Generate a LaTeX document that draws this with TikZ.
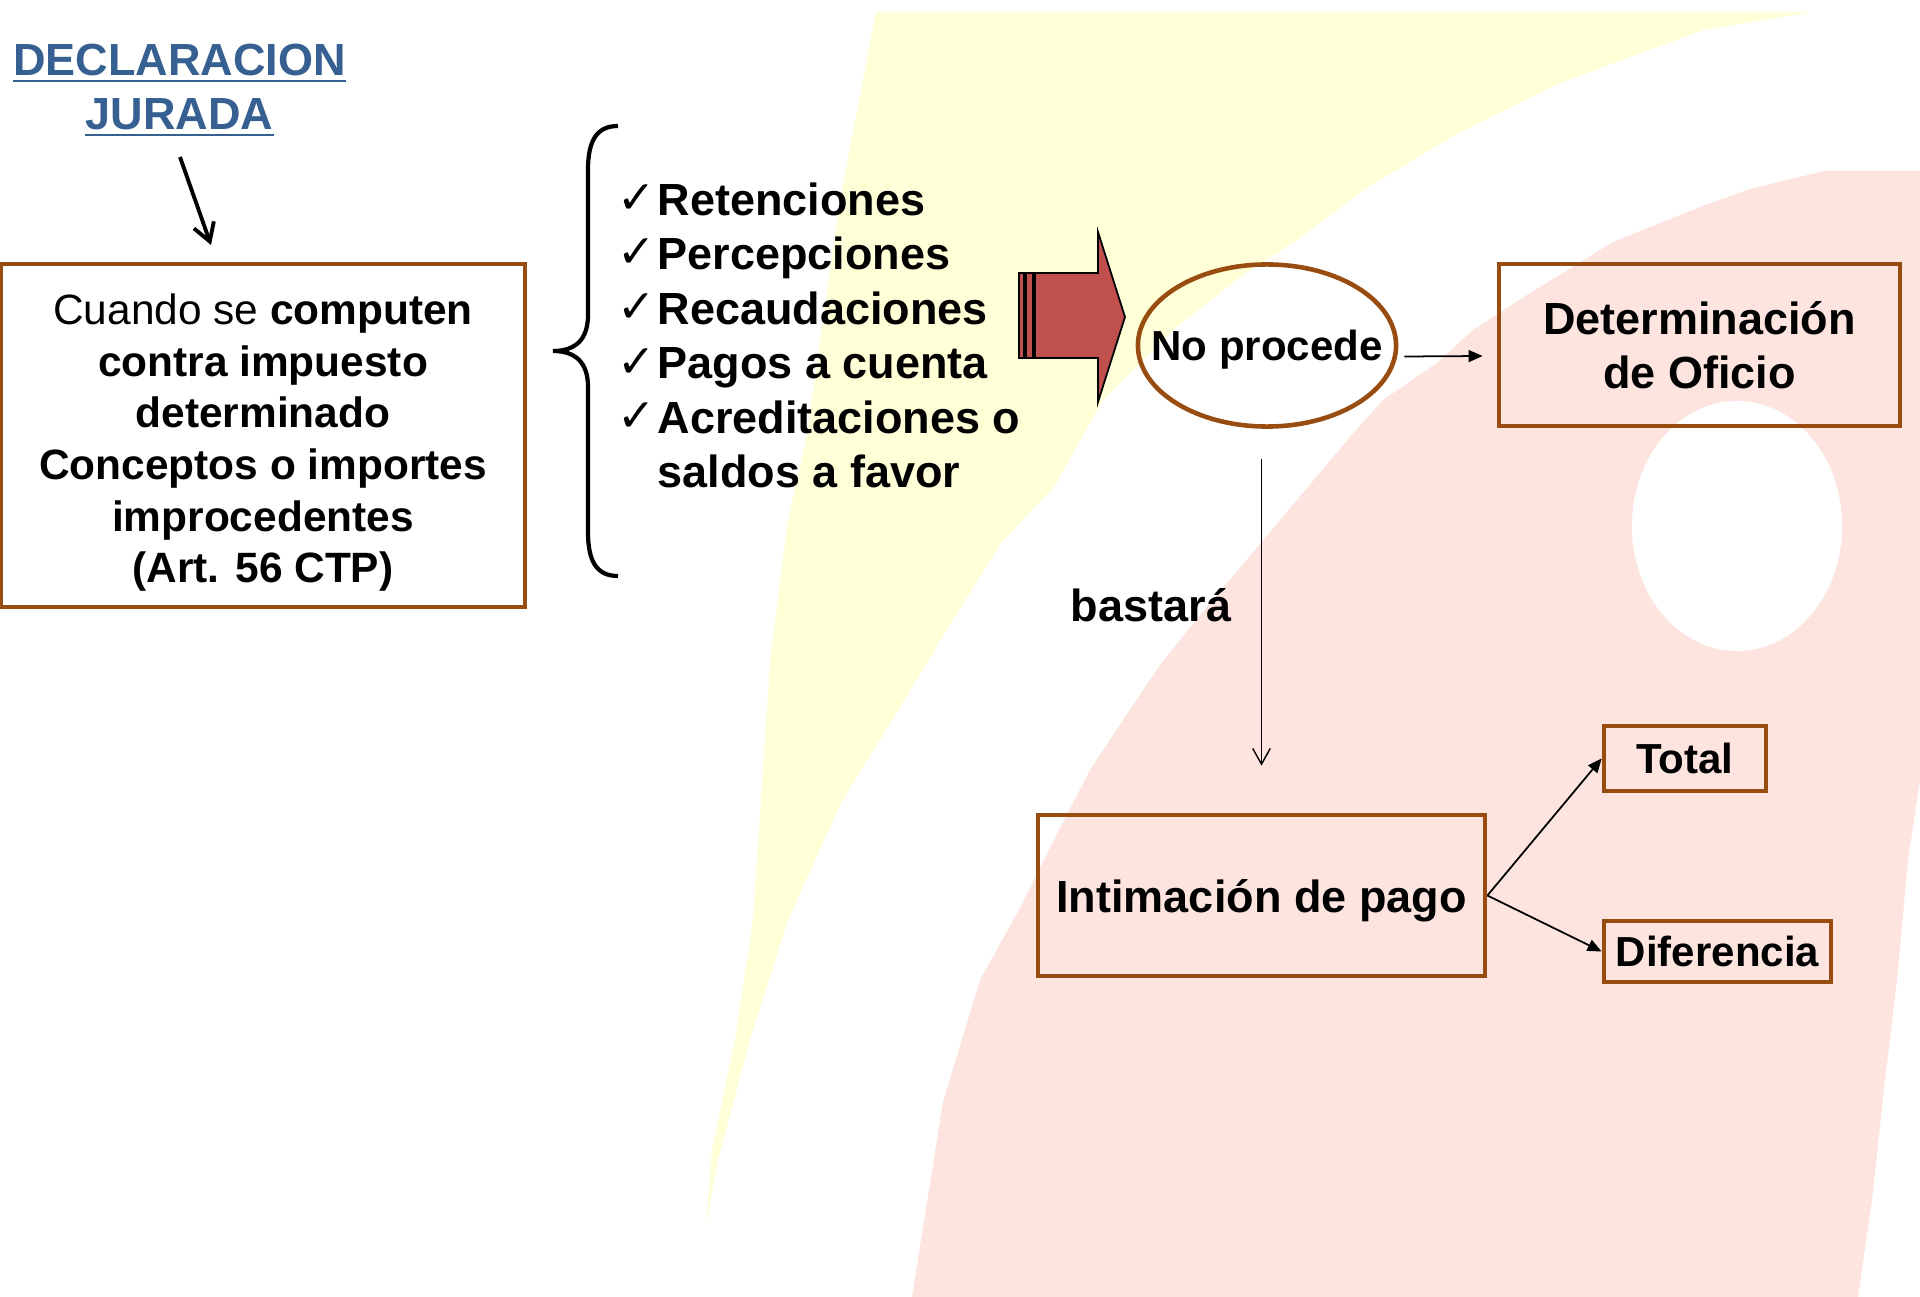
\documentclass[tikz,border=0pt]{standalone}
\usepackage{fontspec}
\setmainfont{Liberation Sans}
\newfontfamily\dejavu{DejaVu Sans}
\usetikzlibrary{shapes.geometric,arrows.meta,calc}
\definecolor{brownb}{RGB}{153,76,15}
\definecolor{djblue}{RGB}{55,96,146}
\definecolor{bgyellow}{RGB}{255,255,216}
\definecolor{bgpink}{RGB}{253,228,222}
\definecolor{arrowred}{RGB}{192,80,77}
\tikzset{
  brbox/.style={draw=brownb, line width=1.3pt, rectangle, inner sep=0pt, align=center},
  bigtxt/.style={font=\fontsize{12.8pt}{15.4pt}\selectfont\bfseries},
  midtxt/.style={font=\fontsize{11.95pt}{14pt}\selectfont\bfseries},
  listtxt/.style={bigtxt, inner sep=0pt, anchor=base west},
  checkmk/.style={font=\dejavu\fontsize{13pt}{15pt}\selectfont, inner sep=0pt, anchor=base east},
  thinarrow/.style={line width=0.5pt, -{Triangle[length=4pt,width=3.4pt]}},
  openarrow/.style={line width=0.4pt, -{Straight Barb[length=4.5pt,width=5pt]}},
  djarrow/.style={line width=1.1pt, -{Straight Barb[length=5pt,width=6pt]}},
  ulline/.style={djblue, line width=0.85pt},
  bracepath/.style={line width=1.2pt},
  fatarrow/.style={fill=arrowred, draw=black, line width=0.5pt},
}
\begin{document}
\begin{tikzpicture}[x=0.01cm,y=-0.01cm]
\useasboundingbox (0,0) rectangle (1920,1297);
\fill[white] (0,0) rectangle (1920,1297);
% background shapes
\fill[bgyellow] (876,12) -- (1812,12) -- (1704,30) -- (1560,83) -- (1455,135) -- (1367,188)
  -- (1297,240) -- (1243,275) -- (1173,330) -- (1103,400) -- (1054,487) -- (1002,542)
  -- (948,628) -- (894,717) -- (841,803) -- (788,920) -- (750,1040) -- (718,1160)
  -- (706,1225) -- (712,1150) -- (735,1040) -- (753,920) -- (770,663) -- (788,520)
  -- (807,435) -- (840,200) -- cycle;
\fill[bgpink] (1920,171) -- (1825,171) -- (1753,188) -- (1700,207) -- (1613,242) -- (1527,295)
  -- (1473,330) -- (1437,363) -- (1383,400) -- (1350,437) -- (1196,620) -- (1160,665)
  -- (1125,717) -- (1090,770) -- (1054,840) -- (1019,910) -- (980,980) -- (943,1102)
  -- (912,1297) -- (1858,1297) -- (1872,1200) -- (1885,1080) -- (1897,980) -- (1908,860)
  -- (1920,780) -- cycle;
\fill[white] (1737,526) ellipse [x radius=1.05cm, y radius=1.25cm];

% title
\node[bigtxt, text=djblue, inner sep=0pt, anchor=base] (dj1) at (179.5,76) {DECLARACION};
\node[bigtxt, text=djblue, inner sep=0pt, anchor=base] (dj2) at (179.5,130) {JURADA};
\draw[ulline] ($(dj1.base west)+(0,5)$) -- ($(dj1.base east)+(0,5)$);
\draw[ulline] ($(dj2.base west)+(0,5)$) -- ($(dj2.base east)+(0,5)$);

% left box
\node[brbox, minimum width=5.24cm, minimum height=3.43cm,
      font=\fontsize{12.06pt}{14.7pt}\selectfont] (lb) at (263,435.5)
  {\rule{0pt}{12.8pt}Cuando se \textbf{computen}\\\textbf{contra impuesto}\\\textbf{determinado}\\
   \textbf{Conceptos o importes}\\\textbf{improcedentes}\\\textbf{(Art. 56 CTP)}};
\coordinate (djs) at (180,157);
\coordinate (dje) at (211,245);
\draw[djarrow] (djs) -- (dje);

% brace
\draw[bracepath] (618,126) .. controls (597,126) and (588,140) .. (588,170) -- (588,315)
  .. controls (588,340) and (575,351) .. (553,351)
  .. controls (575,351) and (588,362) .. (588,387) -- (588,532)
  .. controls (588,562) and (597,576) .. (618,576);

% list
\foreach \t [count=\i] in {Retenciones, Percepciones, Recaudaciones, Pagos a cuenta, Acreditaciones o} {
  \node[listtxt] (l\i) at (657, {215.5+54.5*(\i-1)}) {\t};
  \node[checkmk] (c\i) at ($(l\i.base west)+(0,-2)$) {✓};
}
\node[listtxt] (l6) at (657,488) {saldos a favor};

% fat arrow
\draw[fatarrow] (1035,273) -- (1098,273) -- (1098,232) -- (1125,317) -- (1098,402)
  -- (1098,358) -- (1035,358) -- cycle;
\draw[fatarrow] (1019,273) rectangle (1024,358);
\draw[fatarrow] (1026,273) rectangle (1033,358);

% ellipse
\node[ellipse, draw=brownb, line width=1.3pt, minimum width=2.58cm, minimum height=1.62cm,
      inner sep=0pt, midtxt, text depth=0pt] (np) at (1267,345.5) {\makebox[0pt]{No procede}};

% determinacion
\node[brbox, minimum width=4.01cm, minimum height=1.62cm, bigtxt] (det) at (1699.5,345)
  {Determinación\\de Oficio};
\draw[thinarrow] ($(np.east)+(6,11)$) -- ($(det.west)+(-14,11)$);

% bastara
\node[bigtxt, inner sep=0pt, anchor=base] (bas) at (1151,621) {bastará};

% intimacion
\node[brbox, minimum width=4.47cm, minimum height=1.61cm, bigtxt, text depth=0pt] (int) at (1261.5,895.5)
  {Intimación de pago};
\draw[openarrow] ($(np.south -| int.north)+(0,30)$) -- ($(int.north)+(0,-47)$);

% total / diferencia
\node[brbox, minimum width=1.62cm, minimum height=0.65cm, midtxt, text depth=0pt] (tot) at (1685,758.5) {Total};
\node[brbox, minimum width=2.27cm, minimum height=0.61cm, midtxt, text depth=0pt] (dif) at (1717.5,951.5) {Diferencia};
\draw[thinarrow] (int.east) -- (tot.west);
\draw[thinarrow] (int.east) -- (dif.west);
\end{tikzpicture}
\end{document}
